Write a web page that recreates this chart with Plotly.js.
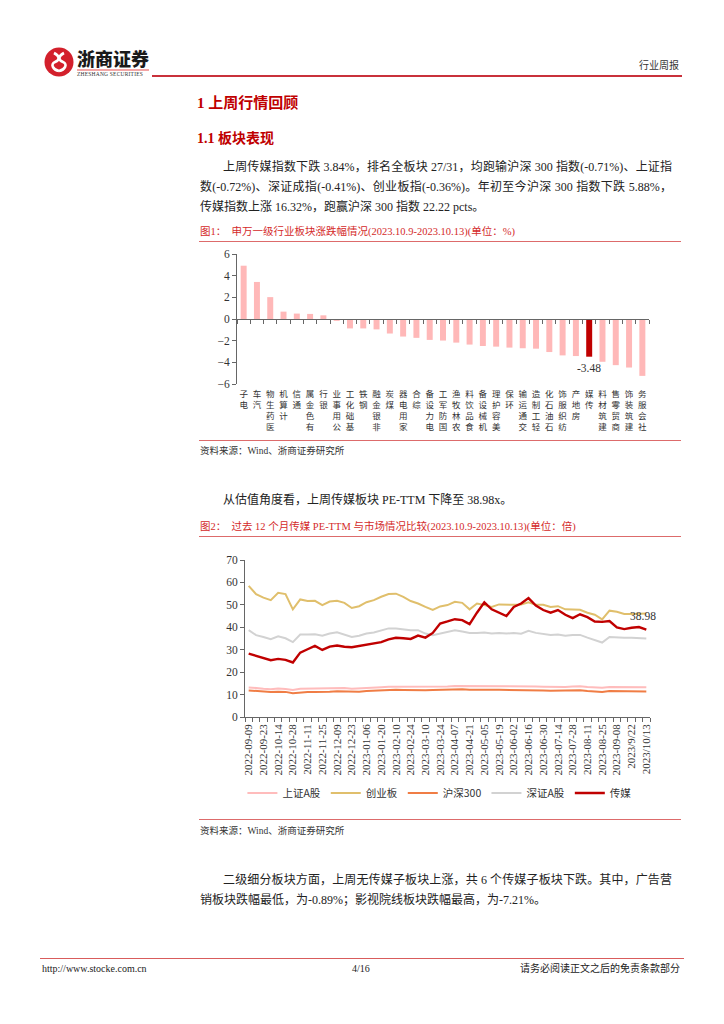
<!DOCTYPE html>
<html><head><meta charset="utf-8">
<script src="https://cdn.plot.ly/plotly-3.0.1.min.js"></script>
<style>
html,body{margin:0;padding:0;background:#fff;}
#page{position:relative;width:724px;height:1024px;overflow:hidden;background:#fff;}
.t{position:absolute;font-family:"Liberation Serif","Noto Sans CJK SC",serif;color:#222;white-space:nowrap;line-height:20px;font-size:12px;}
.j{text-align:justify;text-align-last:justify;white-space:normal;}
.hr{position:absolute;height:0;border-top:1.5px solid #dd6b6b;}
.cap{color:#d42a2a;font-size:10.5px;}
.src{font-size:9.5px;color:#333;}
.h{color:#c00000;font-weight:bold;}
.chart{position:absolute;}
</style></head>
<body><div id="page">
<!-- header -->
<svg style="position:absolute;left:44px;top:47px" width="30" height="30" viewBox="0 0 30 30">
  <circle cx="15" cy="15" r="14.5" fill="#d3202c"/>
  <path d="M10 6 C16 9,16 13,11 15 C6 17,9 23,15 24" stroke="#fff" stroke-width="2.6" fill="none"/>
  <path d="M20 6 C14 9,14 13,19 15 C24 17,21 23,15 24" stroke="#fff" stroke-width="2.6" fill="none"/>
</svg>
<div class="t" style="left:77px;top:47px;font-size:18px;line-height:22px;font-weight:900;font-family:'Noto Sans CJK SC';color:#1a1a1a;letter-spacing:0px">浙商证券</div>
<div style="position:absolute;left:77px;top:69px;width:72px;height:2px;background:#f2a5a5"></div>
<div class="t" style="left:77px;top:71px;font-size:5.5px;line-height:7px;color:#333;letter-spacing:0.2px">ZHESHANG SECURITIES</div>
<div style="position:absolute;left:152px;top:75px;width:530px;height:2px;background:#c9313b"></div>
<div class="t" style="left:639px;top:58px;font-size:10px;line-height:16px;color:#333">行业周报</div>

<div class="t h" style="left:197px;top:92px;font-size:15px;line-height:22px">1 上周行情回顾</div>
<div class="t h" style="left:197px;top:129px;font-size:14px;line-height:20px">1.1 板块表现</div>

<div class="t j" style="left:223px;top:157px;width:449px">上周传媒指数下跌 3.84%，排名全板块 27/31，均跑输沪深 300 指数(-0.71%)、上证指</div>
<div class="t j" style="left:200px;top:177px;width:472px">数(-0.72%)、深证成指(-0.41%)、创业板指(-0.36%)。年初至今沪深 300 指数下跌 5.88%，</div>
<div class="t" style="left:200px;top:197px">传媒指数上涨 16.32%，跑赢沪深 300 指数 22.22 pcts。</div>

<div class="t cap" style="left:200px;top:222px">图1：&nbsp;&nbsp;申万一级行业板块涨跌幅情况(2023.10.9-2023.10.13)(单位：%)</div>
<div class="hr" style="left:199px;top:241px;width:482px"></div>
<div id="c1" class="chart" style="left:190px;top:245px;width:480px;height:195px"></div>
<div class="hr" style="left:199px;top:440px;width:482px"></div>
<div class="t src" style="left:200px;top:441px">资料来源：Wind、浙商证券研究所</div>

<div class="t" style="left:223px;top:490px">从估值角度看，上周传媒板块 PE-TTM 下降至 38.98x。</div>
<div class="t cap" style="left:200px;top:517px">图2：&nbsp;&nbsp;过去 12 个月传媒 PE-TTM 与市场情况比较(2023.10.9-2023.10.13)(单位：倍)</div>
<div class="hr" style="left:199px;top:536px;width:482px"></div>
<div id="c2" class="chart" style="left:190px;top:545px;width:480px;height:265px"></div>
<div class="hr" style="left:199px;top:819px;width:482px"></div>
<div class="t src" style="left:200px;top:821px">资料来源：Wind、浙商证券研究所</div>

<div class="t j" style="left:223px;top:870px;width:449px">二级细分板块方面，上周无传媒子板块上涨，共 6 个传媒子板块下跌。其中，广告营</div>
<div class="t" style="left:200px;top:890px">销板块跌幅最低，为-0.89%；影视院线板块跌幅最高，为-7.21%。</div>

<div style="position:absolute;left:40px;top:958px;width:644px;height:0;border-top:1.5px solid #d95c5c"></div>
<div class="t" style="left:42px;top:961px;font-size:10px;line-height:16px">http://www.stocke.com.cn</div>
<div class="t" style="left:352px;top:961px;font-size:10px;line-height:16px">4/16</div>
<div class="t" style="right:44px;top:961px;font-size:10px;line-height:16px">请务必阅读正文之后的免责条款部分</div>
</div>

<script>
// ---------- Chart 1 data ----------
const sectors = ['电子','汽车','医药生物','计算机','通信','有色金属','银行','公用事业','基础化工','钢铁','非银金融','煤炭','家用电器','综合','电力设备','国防军工','农林牧渔','食品饮料','机械设备','美容护理','环保','交通运输','轻工制造','石油石化','纺织服饰','房地产','传媒','建筑材料','商贸零售','建筑装饰','社会服务'];
const changes = [4.92,3.42,2.02,0.68,0.50,0.47,0.34,-0.17,-0.87,-0.87,-0.96,-1.34,-1.62,-1.74,-1.93,-1.99,-2.18,-2.36,-2.49,-2.55,-2.64,-2.70,-2.74,-3.05,-3.36,-3.42,-3.48,-3.95,-4.26,-4.48,-5.25];
const highlightSector = '传媒';

// ---------- Chart 2 data ----------
const dates = ['2022-09-09','2022-09-16','2022-09-23','2022-09-30','2022-10-14','2022-10-21','2022-10-28','2022-11-04','2022-11-11','2022-11-18','2022-11-25','2022-12-02','2022-12-09','2022-12-16','2022-12-23','2022-12-30','2023-01-06','2023-01-13','2023-01-20','2023-02-03','2023-02-10','2023-02-17','2023-02-24','2023-03-03','2023-03-10','2023-03-17','2023-03-24','2023-03-31','2023-04-07','2023-04-14','2023-04-21','2023-04-28','2023-05-05','2023-05-12','2023-05-19','2023-05-26','2023-06-02','2023-06-09','2023-06-16','2023-06-21','2023-06-30','2023-07-07','2023-07-14','2023-07-21','2023-07-28','2023-08-04','2023-08-11','2023-08-18','2023-08-25','2023-09-01','2023-09-08','2023-09-15','2023-09-22','2023-09-28','2023-10-13'];
const tickDates = ['2022-09-09','2022-09-23','2022-10-14','2022-10-28','2022-11-11','2022-11-25','2022-12-09','2022-12-23','2023-01-06','2023-01-20','2023-02-10','2023-02-24','2023-03-10','2023-03-24','2023-04-07','2023-04-21','2023-05-05','2023-05-19','2023-06-02','2023-06-16','2023-06-30','2023-07-14','2023-07-28','2023-08-11','2023-08-25','2023-09-08','2023-09-22','2023-10-13'];
const tickLabels = ['2022-09-09','2022-09-23','2022-10-14','2022-10-28','2022-11-11','2022-11-25','2022-12-09','2022-12-23','2023-01-06','2023-01-20','2023-02-10','2023-02-24','2023-03-10','2023-03-24','2023-04-07','2023-04-21','2023-05-05','2023-05-19','2023-06-02','2023-06-16','2023-06-30','2023-07-14','2023-07-28','2023-08-11','2023-08-25','2023-09-08','2023/9/22','2023/10/13'];
const seriesNames = ['上证A股','创业板','沪深300','深证A股','传媒'];
const shA   = [13.2,12.8,12.6,12.4,12.7,12.5,12.0,12.6,12.7,12.7,12.6,12.8,13.0,12.9,12.6,12.7,12.9,13.1,13.3,13.5,13.5,13.4,13.3,13.5,13.3,13.4,13.5,13.6,13.8,13.8,13.7,13.8,13.9,13.8,13.7,13.7,13.6,13.7,13.8,13.6,13.5,13.4,13.5,13.4,13.6,13.7,13.4,13.2,13.0,13.4,13.4,13.4,13.3,13.4,13.3];
const cyb   = [58.5,54.8,53.2,52.1,55.4,54.8,48.0,52.4,51.7,51.8,49.9,51.5,51.8,50.9,48.6,49.4,51.2,52.1,53.6,54.8,55.0,53.6,51.7,50.6,49.1,47.7,49.3,49.9,51.4,50.9,48.0,50.6,49.9,49.1,50.2,50.0,50.0,50.2,51.1,50.0,50.0,49.1,49.4,48.0,48.0,47.8,46.5,45.6,43.5,47.4,46.9,45.9,45.9,46.2,46.2];
const hs300 = [11.8,11.5,11.3,11.2,11.3,11.2,10.6,11.0,11.1,11.1,11.1,11.3,11.5,11.4,11.2,11.3,11.6,11.8,12.0,12.1,12.1,12.0,11.9,12.1,11.9,12.0,12.1,12.2,12.4,12.4,12.2,12.3,12.4,12.2,12.1,12.1,12.0,12.0,12.1,11.9,11.8,11.7,11.8,11.7,11.9,11.9,11.6,11.4,11.2,11.6,11.6,11.5,11.5,11.5,11.4];
const szA   = [38.7,36.5,35.7,34.7,36.0,35.1,33.4,36.8,36.8,36.9,36.2,37.2,37.8,36.9,35.7,36.2,37.2,37.7,38.7,39.5,39.5,39.0,38.7,38.7,37.2,36.5,37.2,38.0,38.7,38.1,37.5,37.5,37.7,37.2,37.5,37.2,37.5,37.1,38.4,37.5,37.1,36.6,36.8,36.2,36.6,36.6,35.4,34.3,33.2,35.7,35.4,35.3,35.3,35.1,35.0];
const media = [28.3,27.3,26.2,25.3,25.9,25.5,24.3,28.7,30.2,31.7,29.9,31.4,31.9,31.3,31.1,31.7,32.5,32.8,33.4,34.6,35.3,35.1,34.8,36.3,35.4,37.5,41.7,42.6,43.6,43.2,41.4,46.5,51.1,48.0,46.5,45.0,49.1,50.6,53.0,49.7,47.7,46.5,47.7,45.6,44.1,45.8,44.5,42.6,42.4,42.8,39.9,39.2,39.8,40.1,38.98];

const serif = 'Liberation Serif, Noto Sans CJK SC, serif';
const axisCol = '#666';
const cfg = {staticPlot:true, displayModeBar:false};

// ---------- Chart 1 ----------
const hiIdx = sectors.indexOf(highlightSector);
const barColors = sectors.map(s => s === highlightSector ? '#c00000' : '#ffb8b8');
const catText = sectors.map(s => s.split('').reverse().join('<br>'));
Plotly.newPlot('c1', [
  {type:'bar', x:sectors, y:changes, marker:{color:barColors, line:{width:0}}, hoverinfo:'skip'},
  {type:'scatter', x:sectors, y:changes, xaxis:'x2', yaxis:'y', mode:'markers', marker:{opacity:0}, hoverinfo:'skip', showlegend:false}
], {
  width:480, height:195, margin:{l:47, r:21, t:9, b:56, autoexpand:false},
  paper_bgcolor:'rgba(0,0,0,0)', plot_bgcolor:'rgba(0,0,0,0)',
  showlegend:false, bargap:0.55,
  font:{family:serif, size:11, color:'#333'},
  xaxis:{type:'category', range:[-0.5, sectors.length-0.5], tickmode:'array', tickvals:sectors, ticktext:catText,
         tickangle:0, ticks:'', showline:false, showgrid:false, zeroline:false, automargin:false, ticklabelstandoff:3,
         tickfont:{family:'Noto Sans CJK SC', size:8.5, color:'#333'}},
  xaxis2:{type:'category', overlaying:'x', anchor:'free', position:0.5, range:[-0.5, sectors.length-0.5],
          tickmode:'linear', tick0:0, dtick:1, tickson:'boundaries', ticks:'outside', ticklen:4, tickcolor:axisCol,
          showline:true, linecolor:axisCol, linewidth:1, showticklabels:false, showgrid:false, zeroline:false},
  yaxis:{range:[-6,6], tickmode:'linear', tick0:0, dtick:2, ticks:'outside', ticklen:4, tickcolor:axisCol,
         showline:true, linecolor:axisCol, linewidth:1, showgrid:false, zeroline:false, automargin:false,
         tickfont:{size:11.5, color:'#333'}},
  annotations:[{x:hiIdx, y:changes[hiIdx], xref:'x', yref:'y', text:changes[hiIdx].toFixed(2), showarrow:false,
                yanchor:'top', yshift:-3, font:{family:serif, size:11.5, color:'#333'}}]
}, cfg);

// ---------- Chart 2 ----------
const seriesData = [shA, cyb, hs300, szA, media];
const seriesColors = ['#ffbcbc','#e0bf6c','#f07d45','#d2d2d2','#c00000'];
const seriesWidths = [2, 2, 2, 2, 2.4];
const traces2 = seriesNames.map((n,i) => ({
  type:'scatter', mode:'lines', name:n, x:dates, y:seriesData[i],
  line:{color:seriesColors[i], width:seriesWidths[i]}, hoverinfo:'skip'
}));
traces2.push({type:'scatter', x:dates, y:media, xaxis:'x2', yaxis:'y', mode:'markers', marker:{opacity:0}, hoverinfo:'skip', showlegend:false});
const last = media.length - 1;
Plotly.newPlot('c2', traces2, {
  width:480, height:265, margin:{l:55, r:20, t:15, b:93, autoexpand:false},
  paper_bgcolor:'rgba(0,0,0,0)', plot_bgcolor:'rgba(0,0,0,0)',
  font:{family:serif, size:11, color:'#333'},
  xaxis:{type:'category', range:[-0.5, dates.length-0.5], tickmode:'linear', tick0:0, dtick:1, tickson:'boundaries',
         ticks:'outside', ticklen:4, tickcolor:axisCol, showline:true, linecolor:axisCol, linewidth:1,
         showticklabels:false, showgrid:false, zeroline:false, automargin:false},
  xaxis2:{type:'category', overlaying:'x', anchor:'y', side:'bottom', range:[-0.5, dates.length-0.5],
          tickmode:'array', tickvals:tickDates, ticktext:tickLabels, ticks:'', showline:false, tickangle:-90,
          ticklabelstandoff:4,
          showgrid:false, zeroline:false, automargin:false, tickfont:{family:serif, size:11, color:'#333'}},
  yaxis:{range:[0,70], tickmode:'linear', tick0:0, dtick:10, ticks:'outside', ticklen:4, tickcolor:axisCol,
         showline:true, linecolor:axisCol, linewidth:1, showgrid:false, zeroline:false, automargin:false,
         tickfont:{size:11.5, color:'#333'}},
  legend:{orientation:'h', x:0.48, xanchor:'center', y:-0.484, yanchor:'middle',
          font:{family:'Noto Sans CJK SC, Liberation Serif', size:10.5, color:'#333'}, itemwidth:30, tracegroupgap:0},
  annotations:[{x:last, y:media[last], xref:'x', yref:'y', text:media[last].toFixed(2), showarrow:false,
                yshift:14, xshift:-3, font:{family:serif, size:11.5, color:'#333'}}]
}, cfg);
</script>
</body></html>
